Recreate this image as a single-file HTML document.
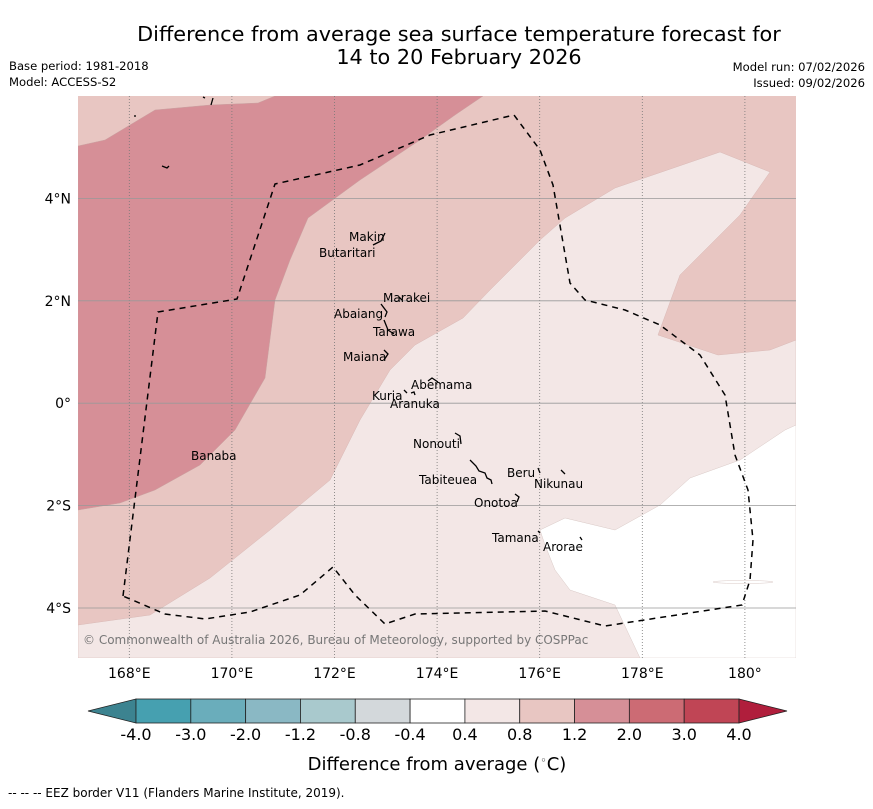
<!DOCTYPE html>
<html><head><meta charset="utf-8"><style>
body{margin:0;background:#fff;width:873px;height:804px;overflow:hidden;font-family:"Liberation Sans","DejaVu Sans",sans-serif}
svg text{font-family:"DejaVu Sans","Liberation Sans",sans-serif}
</style></head><body>
<svg id="chart" width="873" height="804" viewBox="0 0 873 804">
<text x="459" y="41" font-size="20.8" text-anchor="middle">Difference from average sea surface temperature forecast for</text>
<text x="459" y="64" font-size="20.8" text-anchor="middle">14 to 20 February 2026</text>
<text x="9" y="70" font-size="11.6">Base period: 1981-2018</text>
<text x="9" y="86" font-size="11.6">Model: ACCESS-S2</text>
<text x="865" y="71" font-size="11.6" text-anchor="end">Model run: 07/02/2026</text>
<text x="865" y="87" font-size="11.6" text-anchor="end">Issued: 09/02/2026</text>
<defs><clipPath id="mapclip"><rect x="78" y="96" width="718" height="562"/></clipPath></defs>
<g clip-path="url(#mapclip)">
<rect x="78" y="96" width="718" height="562" fill="#e8c6c2"/>
<polygon fill="#d68f97" stroke="#c9a0a0" stroke-width="0.5" points="78,146 105,140 155,110 210,105 258,103 275,96 483,96 455,115 420,140 360,180 308,218 290,260 275,300 265,378 235,430 200,465 155,490 120,503 78,510"/>
<polygon fill="#f3e7e6" stroke="#d9b9b6" stroke-width="0.5" points="78,625 150,615 210,578 270,530 330,480 360,420 390,370 415,345 463,318 490,290 515,265 540,240 565,218 615,188 720,152 770,172 740,215 680,275 658,335 718,355 770,350 796,340 796,658 78,658"/>
<polygon fill="#ffffff" stroke="#d9c9c6" stroke-width="0.5" points="540,530 565,518 615,530 660,505 690,478 740,460 785,430 796,425 796,658 640,658 615,605 570,590 555,570 545,545"/>
<ellipse cx="743" cy="582" rx="30" ry="1.5" fill="#fff" stroke="#d9c9c6" stroke-width="0.5"/>
<g id="grid"></g>
<polyline fill="none" stroke="#000" stroke-width="1.5" stroke-dasharray="6,5" points="123,596 158,312 237,299 275,184 360,165 430,135 514,115 540,150 553,185 570,283 585,300 625,310 660,325 700,355 725,395 735,455 748,490 753,540 750,580 742,605 605,626 545,611 415,614 385,624 355,595 333,567 300,595 250,612 205,619 165,614 123,596"/>
<g stroke="#000" stroke-width="1.3" fill="none">
<path d="M135,115v2M203,97l2,1M213,98l-2,7M162,166l5,2 2,-2M373,245l8,-4 4,-8M381,304l6,8 -2,5M384,320l4,10 6,4M384,350l4,4 -4,6M399,297l3,3M404,390l3,3M411,393l3,-1 1,3M428,381l4,-3 6,4M455,433l5,3 1,8M470,460l6,6 3,5 6,2 2,5 4,2 1,4M538,468l2,5M561,470l4,4M515,494l4,3 -2,5M538,531l2,2M580,537l2,3"/>
</g>
<g font-size="12" fill="#000">
<text x="349" y="241">Makin</text><text x="319" y="257">Butaritari</text>
<text x="383" y="302">Marakei</text><text x="334" y="318">Abaiang</text>
<text x="373" y="336">Tarawa</text><text x="343" y="361">Maiana</text>
<text x="411" y="389">Abemama</text><text x="372" y="400">Kuria</text>
<text x="390" y="408">Aranuka</text><text x="413" y="448">Nonouti</text>
<text x="191" y="460">Banaba</text><text x="507" y="477">Beru</text>
<text x="419" y="484">Tabiteuea</text><text x="534" y="488">Nikunau</text>
<text x="474" y="507">Onotoa</text><text x="492" y="542">Tamana</text>
<text x="543" y="551">Arorae</text>
</g>
<text x="83" y="644" font-size="12" fill="#777">© Commonwealth of Australia 2026, Bureau of Meteorology, supported by COSPPac</text>
</g>
<g id="axes"></g>
<g id="colorbar"></g>
<text x="437" y="770" font-size="18" text-anchor="middle">Difference from average (<tspan baseline-shift="super" font-size="11">◦</tspan>C)</text>
<text x="8" y="797" font-size="12">--  --  -- EEZ border V11 (Flanders Marine Institute, 2019).</text>
</svg>
<script>
const lonTicks=[168,170,172,174,176,178,180];
const lonLabels=["168°E","170°E","172°E","174°E","176°E","178°E","180°"];
const latTicks=[4,2,0,-2,-4];
const latLabels=["4°N","2°N","0°","2°S","4°S"];
const cbLevels=["-4.0","-3.0","-2.0","-1.2","-0.8","-0.4","0.4","0.8","1.2","2.0","3.0","4.0"];
const cbColors=["#46a0b0","#6aadbb","#8ab8c4","#a9c9cd","#d3d8db","#ffffff","#f3e7e6","#e8c6c2","#d68f97","#cc6b74","#c04555"];
const NS="http://www.w3.org/2000/svg";
const xLon=l=>78+(l-167)*51.3, yLat=l=>96+(6-l)*51.2;
function mk(t,a,p){const e=document.createElementNS(NS,t);for(const k in a)e.setAttribute(k,a[k]);p.appendChild(e);return e;}
const gridG=document.getElementById('grid'),axesG=document.getElementById('axes'),cbG=document.getElementById('colorbar');
lonTicks.forEach((l,i)=>{const x=xLon(l);
 const g=mk('line',{x1:x,x2:x,y1:96,y2:658,stroke:'#777','stroke-width':0.8,'stroke-dasharray':'1,2'},gridG);
 
 const t=mk('text',{x:x,y:678,'font-size':14,'text-anchor':'middle'},axesG);t.textContent=lonLabels[i];
 });
latTicks.forEach((l,i)=>{const y=yLat(l);
 const g=mk('line',{x1:78,x2:796,y1:y,y2:y,stroke:'#999','stroke-width':0.8},gridG);
 
 const t=mk('text',{x:71,y:y+5,'font-size':14,'text-anchor':'end'},axesG);t.textContent=latLabels[i];
 });
const cbX0=136,cbX1=739,cbTop=699,cbH=24,cbW=(cbX1-cbX0)/cbColors.length;
const la=mk('polygon',{points:`88,${cbTop+cbH/2} ${cbX0},${cbTop} ${cbX0},${cbTop+cbH}`,fill:'#3c8390',stroke:'#222','stroke-width':0.8},cbG);

cbColors.forEach((c,i)=>{const r=mk('rect',{x:cbX0+i*cbW,y:cbTop,width:cbW,height:cbH,fill:c,stroke:'#222','stroke-width':0.8},cbG);
 });
const ra=mk('polygon',{points:`${cbX1},${cbTop} 787,${cbTop+cbH/2} ${cbX1},${cbTop+cbH}`,fill:'#b01e3c',stroke:'#222','stroke-width':0.8},cbG);

cbLevels.forEach((v,i)=>{const t=mk('text',{x:cbX0+i*cbW,y:740,'font-size':16,'text-anchor':'middle'},cbG);t.textContent=v;
 });
</script>
</body></html>
